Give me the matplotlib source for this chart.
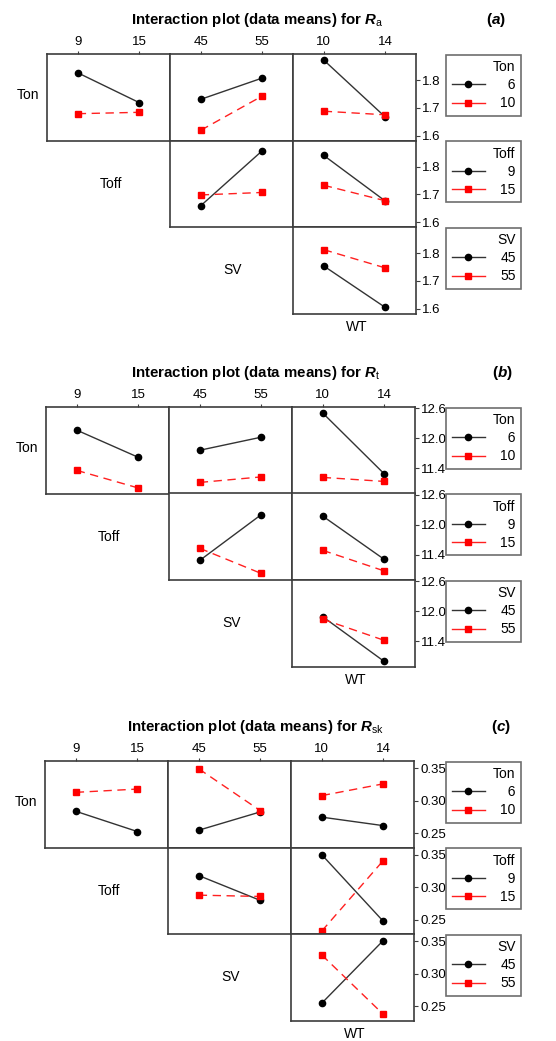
import numpy as np
import matplotlib
matplotlib.use('Agg')
from matplotlib import pyplot as plt
from matplotlib.lines import Line2D

plt.rcParams['font.family'] = ['Liberation Sans', 'DejaVu Sans']
plt.rcParams['mathtext.fontset'] = 'custom'
plt.rcParams['mathtext.rm'] = 'Liberation Sans'
plt.rcParams['mathtext.it'] = 'Liberation Sans:italic'
plt.rcParams['mathtext.bf'] = 'Liberation Sans:bold'
plt.rcParams['mathtext.bfit'] = 'Liberation Sans:italic:bold'

# factor names and levels
factors = ['Ton', 'Toff', 'SV', 'WT']
levels = {'Ton': [6, 10], 'Toff': [9, 15], 'SV': [45, 55], 'WT': [10, 14]}

# means: key (row factor, column factor) -> [low-level line, high-level line]
# each line holds the means at the two levels of the column factor
ra_means = {
    ('Ton', 'Toff'): [[1.827, 1.719], [1.679, 1.684]],
    ('Ton', 'SV'): [[1.731, 1.808], [1.619, 1.743]],
    ('Ton', 'WT'): [[1.873, 1.667], [1.688, 1.675]],
    ('Toff', 'SV'): [[1.659, 1.858], [1.698, 1.707]],
    ('Toff', 'WT'): [[1.841, 1.676], [1.733, 1.677]],
    ('SV', 'WT'): [[1.754, 1.604], [1.813, 1.747]],
}
rt_means = {
    ('Ton', 'Toff'): [[12.16, 11.62], [11.36, 11.01]],
    ('Ton', 'SV'): [[11.76, 12.02], [11.12, 11.23]],
    ('Ton', 'WT'): [[12.50, 11.29], [11.22, 11.14]],
    ('Toff', 'SV'): [[11.29, 12.20], [11.53, 11.03]],
    ('Toff', 'WT'): [[12.17, 11.31], [11.49, 11.08]],
    ('SV', 'WT'): [[11.89, 11.00], [11.84, 11.42]],
}
rsk_means = {
    ('Ton', 'Toff'): [[0.284, 0.253], [0.313, 0.318]],
    ('Ton', 'SV'): [[0.255, 0.283], [0.349, 0.285]],
    ('Ton', 'WT'): [[0.275, 0.262], [0.308, 0.326]],
    ('Toff', 'SV'): [[0.318, 0.280], [0.288, 0.286]],
    ('Toff', 'WT'): [[0.350, 0.248], [0.233, 0.341]],
    ('SV', 'WT'): [[0.255, 0.351], [0.329, 0.238]],
}

panels = [
    dict(means=ra_means, sub='a', tag='a', ylim=(1.582, 1.895),
         yticks=[1.6, 1.7, 1.8], fmt='%.1f', top=54, left=47, tagx=496),
    dict(means=rt_means, sub='t', tag='b', ylim=(10.9, 12.62),
         yticks=[11.4, 12.0, 12.6], fmt='%.1f', top=407, left=46, tagx=502),
    dict(means=rsk_means, sub='sk', tag='c', ylim=(0.2285, 0.361),
         yticks=[0.25, 0.30, 0.35], fmt='%.2f', top=761, left=45, tagx=501),
]

W, H = 556, 1041
fig = plt.figure(figsize=(W / 100, H / 100), dpi=100)

cw, rh = 123, 86.5
frame_col = '#3c3c3c'
fs = 9.5


def fx(x):
    return x / W


def fy(y):
    return 1 - y / H


for p in panels:
    top, left = p['top'], p['left']
    fig.text(fx(left + 210), fy(top - 34),
             r'Interaction plot (data means) for $\mathbfit{R}_{\mathrm{' + p['sub'] + '}}$',
             ha='center', va='center', fontsize=10.8, fontweight='bold')
    fig.text(fx(p['tagx']), fy(top - 34),
             r'$\mathbf{(}\mathbfit{' + p['tag'] + r'}\mathbf{)}$',
             ha='center', va='center', fontsize=11)
    for r, rf in enumerate(factors[:3]):
        for c, cf in enumerate(factors[1:]):
            if c < r:
                continue
            ax = fig.add_axes([fx(left + c * cw), fy(top + (r + 1) * rh),
                               cw / W, rh / H])
            lo, hi = p['means'][(rf, cf)]
            xl = levels[cf]
            ax.plot(xl, lo, '-', color='#333333', lw=1.0, marker='o',
                    ms=4.5, mfc='black', mec='black')
            ax.plot(xl, hi, '--', color='#ff2020', lw=1.0, marker='s',
                    ms=4.5, mfc='#ff0000', mec='#ff0000', dashes=(6, 4))
            span = xl[1] - xl[0]
            ax.set_xlim(xl[0] - span / 2, xl[1] + span / 2)
            ax.set_ylim(*p['ylim'])
            for s in ax.spines.values():
                s.set_color(frame_col)
                s.set_linewidth(1.2)
            ax.tick_params(which='both', length=0, labelleft=False,
                           labelbottom=False)
            if r == 0:
                ax.xaxis.tick_top()
                ax.set_xticks(xl)
                ax.tick_params(axis='x', top=True, length=2.5, width=0.8,
                               color=frame_col, labeltop=True,
                               labelsize=fs, pad=2)
            else:
                ax.set_xticks([])
            if c == 2:
                ax.yaxis.tick_right()
                ax.set_yticks(p['yticks'])
                ax.set_yticklabels([p['fmt'] % v for v in p['yticks']])
                ax.tick_params(axis='y', right=True, length=3, width=0.8,
                               color=frame_col, labelright=True,
                               labelsize=fs, pad=1.5)
            else:
                ax.set_yticks([])

        # legend for this row factor
        handles = [
            Line2D([], [], color='#333333', lw=1.0, marker='o', ms=4.5,
                   mfc='black', mec='black'),
            Line2D([], [], color='#ff2020', lw=1.0, marker='s', ms=4.5,
                   mfc='#ff0000', mec='#ff0000'),
        ]
        labs = []
        for v in levels[rf]:
            s = str(v)
            labs.append('  ' * (2 - len(s)) + s)
        leg = fig.legend(handles, labs, title=rf,
                         loc='upper left',
                         bbox_to_anchor=(fx(446), fy(top + r * rh + 0.5)),
                         fontsize=10,
                         title_fontproperties={'size': 10, 'weight': 'normal'},
                         frameon=True, fancybox=False, alignment='right',
                         handlelength=2.4, handletextpad=1.1,
                         labelspacing=0.3, borderpad=0.4,
                         borderaxespad=0)
        leg.get_frame().set_edgecolor('#4a4a4a')
        leg.get_frame().set_linewidth(1.2)

    # diagonal factor labels
    fig.text(fx(left - 19), fy(top + 0.5 * rh - 2), 'Ton', ha='center',
             va='center', fontsize=10)
    fig.text(fx(left + 0.5 * cw + 2), fy(top + 1.5 * rh), 'Toff',
             ha='center', va='center', fontsize=10)
    fig.text(fx(left + 1.5 * cw + 1), fy(top + 2.5 * rh), 'SV',
             ha='center', va='center', fontsize=10)
    fig.text(fx(left + 2.5 * cw + 2), fy(top + 3 * rh + 14), 'WT',
             ha='center', va='center', fontsize=10)

plt.savefig('out.png', dpi=100)
